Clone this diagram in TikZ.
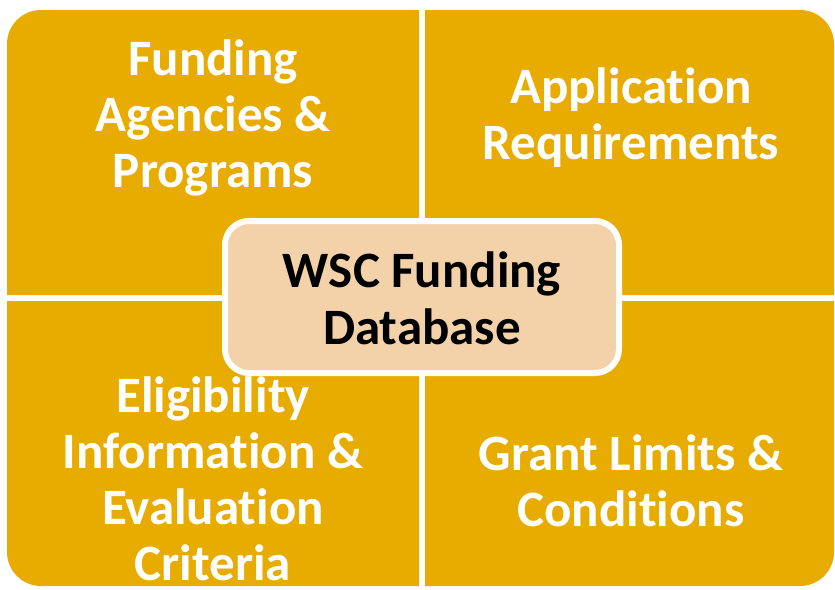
\documentclass[tikz,border=0pt]{standalone}
\usepackage{fontspec}
\setmainfont[Ligatures=NoCommon]{Carlito}
\definecolor{gold}{RGB}{232,171,0}
\definecolor{peach}{RGB}{243,209,169}
\tikzset{
  quad/.style={fill=gold},
  qtext/.style={text=white, font=\bfseries\fontsize{51}{56}\selectfont, align=center, inner sep=0pt},
  ctext/.style={text=black, font=\bfseries\fontsize{51}{57}\selectfont, align=center, inner sep=0pt},
  centerbox/.style={fill=peach, draw=white, line width=6pt, rounded corners=24pt}
}
\begin{document}
\begin{tikzpicture}[x=1pt,y=-1pt]
\useasboundingbox (0,0) rectangle (835,589);
% quadrants
\fill[quad] (7,295) [rounded corners=34pt] -- (7,10) [sharp corners] -- (419,10) -- (419,295) -- cycle;
\fill[quad] (425,10) [rounded corners=34pt] -- (834,10) [sharp corners] -- (834,295) -- (425,295) -- cycle;
\fill[quad] (7,301) [rounded corners=34pt] -- (7,586) [sharp corners] -- (419,586) -- (419,301) -- cycle;
\fill[quad] (834,301) [rounded corners=34pt] -- (834,586) [sharp corners] -- (425,586) -- (425,301) -- cycle;
% text
\node[qtext] (tl) at (213,118) {Funding\\Agencies \&\\Programs};
\node[qtext] (tr) at (631,118) {Application\\Requirements};
\node[qtext] (bl) at (213,479) {Eligibility\\Information \&\\Evaluation\\Criteria};
\node[qtext] (br) at (631,481) {Grant Limits \&\\Conditions};
% center
\draw[centerbox] (225,221) rectangle (619,373);
\node[ctext] (c) at (422,298) {WSC Funding\\Database};
\end{tikzpicture}
\end{document}
